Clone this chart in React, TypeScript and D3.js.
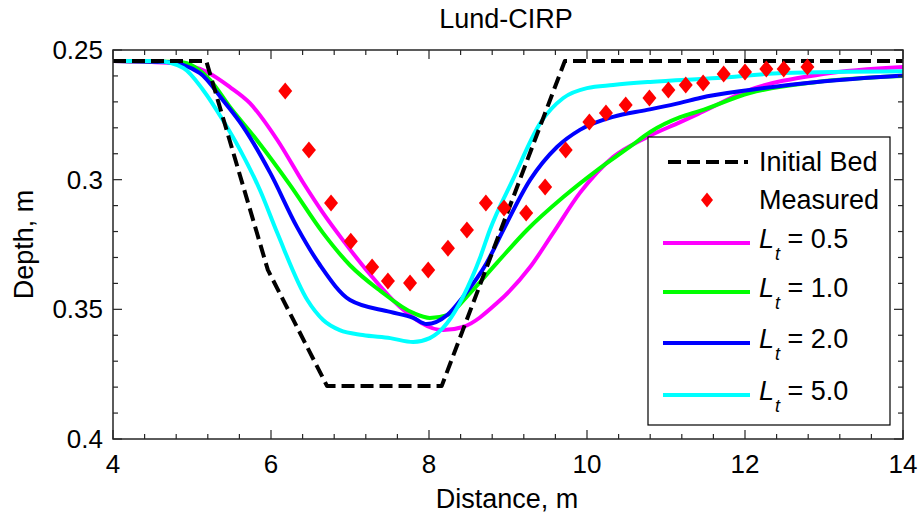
import React from "react";
import * as d3 from "d3";

const W = 920;
const H = 516;
const M = { left: 113, right: 903, top: 50, bottom: 439 };

const xTicksMajor = [4, 6, 8, 10, 12, 14];
const xTickLabels = ["4", "6", "8", "10", "12", "14"];
const yTicksMajor = [0.25, 0.3, 0.35, 0.4];
const yTickLabels = ["0.25", "0.3", "0.35", "0.4"];

const bedX = [4, 5.18, 5.96, 6.71, 8.16, 9.72, 14];
const bedDepth = [0.2542, 0.2542, 0.3348, 0.3796, 0.3796, 0.2542, 0.2542];

const measuredX = [6.18, 6.48, 6.76, 7.01, 7.28, 7.48, 7.76, 7.99, 8.24, 8.48, 8.72, 8.95, 9.23, 9.47, 9.73, 10.03, 10.24, 10.49, 10.79, 11.03, 11.25, 11.47, 11.73, 12.0, 12.27, 12.49, 12.79];
const measuredDepth = [0.2658, 0.2886, 0.309, 0.3237, 0.3337, 0.3391, 0.3398, 0.3348, 0.3264, 0.3194, 0.309, 0.3109, 0.3129, 0.3028, 0.2886, 0.2778, 0.2743, 0.2712, 0.2685, 0.2654, 0.2635, 0.2627, 0.2593, 0.2585, 0.2573, 0.2573, 0.2566];

const lf05X = [4, 4.76, 5.19, 5.48, 5.73, 6.08, 6.41, 6.66, 6.91, 7.25, 7.63, 8.18, 8.43, 8.86, 9.28, 9.57, 9.91, 10.33, 10.76, 11.18, 11.43, 12.06, 12.99, 14];
const lf05D = [0.2542, 0.255, 0.2585, 0.2643, 0.2704, 0.2847, 0.3013, 0.3129, 0.3233, 0.3364, 0.349, 0.358, 0.3568, 0.3476, 0.3337, 0.3206, 0.3051, 0.2913, 0.2836, 0.2778, 0.2743, 0.2654, 0.2593, 0.2566];

const lf10X = [4, 4.85, 5.23, 5.48, 5.82, 6.24, 6.66, 7.0, 7.38, 7.8, 8.01, 8.23, 8.52, 8.86, 9.24, 9.7, 10.13, 10.54, 10.8, 11.18, 11.43, 12.06, 12.91, 14];
const lf10D = [0.2542, 0.2546, 0.2616, 0.272, 0.2847, 0.302, 0.3206, 0.333, 0.3428, 0.3514, 0.3533, 0.3522, 0.3437, 0.3321, 0.3194, 0.3067, 0.2963, 0.2874, 0.2816, 0.2759, 0.2735, 0.2666, 0.2623, 0.26];

const lf20X = [4, 4.68, 5.1, 5.39, 5.65, 5.99, 6.33, 6.62, 7.0, 7.51, 7.8, 7.97, 8.23, 8.43, 8.73, 8.94, 9.28, 9.62, 9.91, 10.33, 10.76, 11.18, 11.43, 12.06, 12.91, 14];
const lf20D = [0.2542, 0.2546, 0.2589, 0.2693, 0.2797, 0.2974, 0.3183, 0.3329, 0.3464, 0.351, 0.3533, 0.3557, 0.3522, 0.3452, 0.3321, 0.3194, 0.3001, 0.2874, 0.2808, 0.2758, 0.2731, 0.2704, 0.2685, 0.2654, 0.2623, 0.2598];

const lf50X = [4, 4.56, 4.89, 5.14, 5.39, 5.61, 5.86, 6.08, 6.46, 6.66, 6.87, 7.16, 7.51, 7.8, 8.01, 8.23, 8.43, 8.65, 8.77, 9.06, 9.41, 9.7, 10.0, 10.33, 10.8, 11.65, 12.48, 14];
const lf50D = [0.2542, 0.2542, 0.2569, 0.2654, 0.277, 0.2886, 0.304, 0.3206, 0.3464, 0.3541, 0.358, 0.3599, 0.3611, 0.3626, 0.3611, 0.3553, 0.3452, 0.3298, 0.3194, 0.3001, 0.2781, 0.2685, 0.2647, 0.2635, 0.2623, 0.2608, 0.2589, 0.2582];

const seriesNames = ["0.5", "1.0", "2.0", "5.0"];
const seriesColors = ["#ff00ff", "#00ff00", "#0000ff", "#00ffff"];
const seriesX = [lf05X, lf10X, lf20X, lf50X];
const seriesD = [lf05D, lf10D, lf20D, lf50D];

const FONT = "'Liberation Sans', Arial, Helvetica, sans-serif";

export default function App() {
  const x = d3.scaleLinear().domain([4, 14]).range([M.left, M.right]);
  const y = d3.scaleLinear().domain([0.25, 0.4]).range([M.top, M.bottom]);

  const lineSmooth = d3
    .line<[number, number]>()
    .x((d) => x(d[0]))
    .y((d) => y(d[1]))
    .curve(d3.curveMonotoneX);
  const lineLin = d3
    .line<[number, number]>()
    .x((d) => x(d[0]))
    .y((d) => y(d[1]));

  const xMinor = d3.range(4, 14.001, 0.4).map((v) => +v.toFixed(2));
  const yMinor = d3.range(0.25, 0.40001, 0.01).map((v) => +v.toFixed(3));
  const isXMajor = (v: number) => xTicksMajor.some((m) => Math.abs(m - v) < 1e-6);
  const isYMajor = (v: number) => yTicksMajor.some((m) => Math.abs(m - v) < 1e-6);

  const diamond = (cx: number, cy: number, hw: number, hh: number) =>
    `M${cx},${cy - hh}L${cx + hw},${cy}L${cx},${cy + hh}L${cx - hw},${cy}Z`;

  const legend = { x0: 648, y0: 137, x1: 890, y1: 425 };
  const legRowY = [162, 200, 243, 292, 343, 395];

  return (
    <svg
      width={W}
      height={H}
      style={{ position: "absolute", left: 0, top: 0, background: "#fff" }}
      fontFamily={FONT}
    >
      <rect x={0} y={0} width={W} height={H} fill="#fff" />
      <defs>
        <clipPath id="plotclip">
          <rect x={M.left} y={M.top} width={M.right - M.left} height={M.bottom - M.top} />
        </clipPath>
      </defs>

      <text x={506} y={28} fontSize={27} textAnchor="middle" fill="#000">
        Lund-CIRP
      </text>

      <g clipPath="url(#plotclip)">
        {seriesX.map((xs, i) => (
          <path
            key={i}
            d={lineSmooth(xs.map((v, j) => [v, seriesD[i][j]] as [number, number])) || ""}
            fill="none"
            stroke={seriesColors[i]}
            strokeWidth={4}
            strokeLinejoin="round"
          />
        ))}
        <path
          d={lineLin(bedX.map((v, j) => [v, bedDepth[j]] as [number, number])) || ""}
          fill="none"
          stroke="#000"
          strokeWidth={4}
          strokeDasharray="13,6"
          strokeLinejoin="round"
        />
        {measuredX.map((v, j) => (
          <path key={j} d={diamond(x(v), y(measuredDepth[j]), 7, 8.5)} fill="#ff0000" />
        ))}
      </g>

      <rect
        x={M.left}
        y={M.top}
        width={M.right - M.left}
        height={M.bottom - M.top}
        fill="none"
        stroke="#262626"
        strokeWidth={1.5}
      />
      {xMinor.map((v, i) => {
        const len = isXMajor(v) ? 9 : 5;
        return (
          <g key={"xt" + i} stroke="#262626" strokeWidth={1.2}>
            <line x1={x(v)} x2={x(v)} y1={M.bottom} y2={M.bottom - len} />
            <line x1={x(v)} x2={x(v)} y1={M.top} y2={M.top + len} />
          </g>
        );
      })}
      {yMinor.map((v, i) => {
        const len = isYMajor(v) ? 9 : 5;
        return (
          <g key={"yt" + i} stroke="#262626" strokeWidth={1.2}>
            <line x1={M.left} x2={M.left + len} y1={y(v)} y2={y(v)} />
            <line x1={M.right} x2={M.right - len} y1={y(v)} y2={y(v)} />
          </g>
        );
      })}
      {xTicksMajor.map((v, i) => (
        <text key={"xl" + i} x={x(v)} y={473} fontSize={26} textAnchor="middle" fill="#000">
          {xTickLabels[i]}
        </text>
      ))}
      {yTicksMajor.map((v, i) => (
        <text key={"yl" + i} x={103} y={y(v) + 9} fontSize={26} textAnchor="end" fill="#000">
          {yTickLabels[i]}
        </text>
      ))}
      <text x={507} y={508} fontSize={27} textAnchor="middle" fill="#000">
        Distance, m
      </text>
      <text
        transform={`translate(33,${(M.top + M.bottom) / 2}) rotate(-90)`}
        fontSize={27}
        textAnchor="middle"
        fill="#000"
      >
        Depth, m
      </text>

      <rect
        x={legend.x0}
        y={legend.y0}
        width={legend.x1 - legend.x0}
        height={legend.y1 - legend.y0}
        fill="#fff"
        stroke="#000"
        strokeWidth={1.2}
      />
      <line x1={668} x2={748} y1={legRowY[0]} y2={legRowY[0]} stroke="#000" strokeWidth={4} strokeDasharray="13,6" />
      <text x={759} y={legRowY[0] + 9} fontSize={27} fill="#000">
        Initial Bed
      </text>
      <path d={diamond(707, legRowY[1], 6, 7.5)} fill="#ff0000" />
      <text x={759} y={legRowY[1] + 9} fontSize={27} fill="#000">
        Measured
      </text>
      {seriesNames.map((name, i) => {
        const ry = legRowY[i + 2];
        return (
          <g key={"lg" + i}>
            <line x1={663} x2={750} y1={ry} y2={ry} stroke={seriesColors[i]} strokeWidth={4} />
            <text x={759} y={ry + 5} fontSize={27} fill="#000">
              <tspan fontStyle="italic">L</tspan>
              <tspan fontStyle="italic" fontSize={18} dy={12} dx={1}>
                t
              </tspan>
              <tspan dy={-12}>{" = " + name}</tspan>
            </text>
          </g>
        );
      })}
    </svg>
  );
}
